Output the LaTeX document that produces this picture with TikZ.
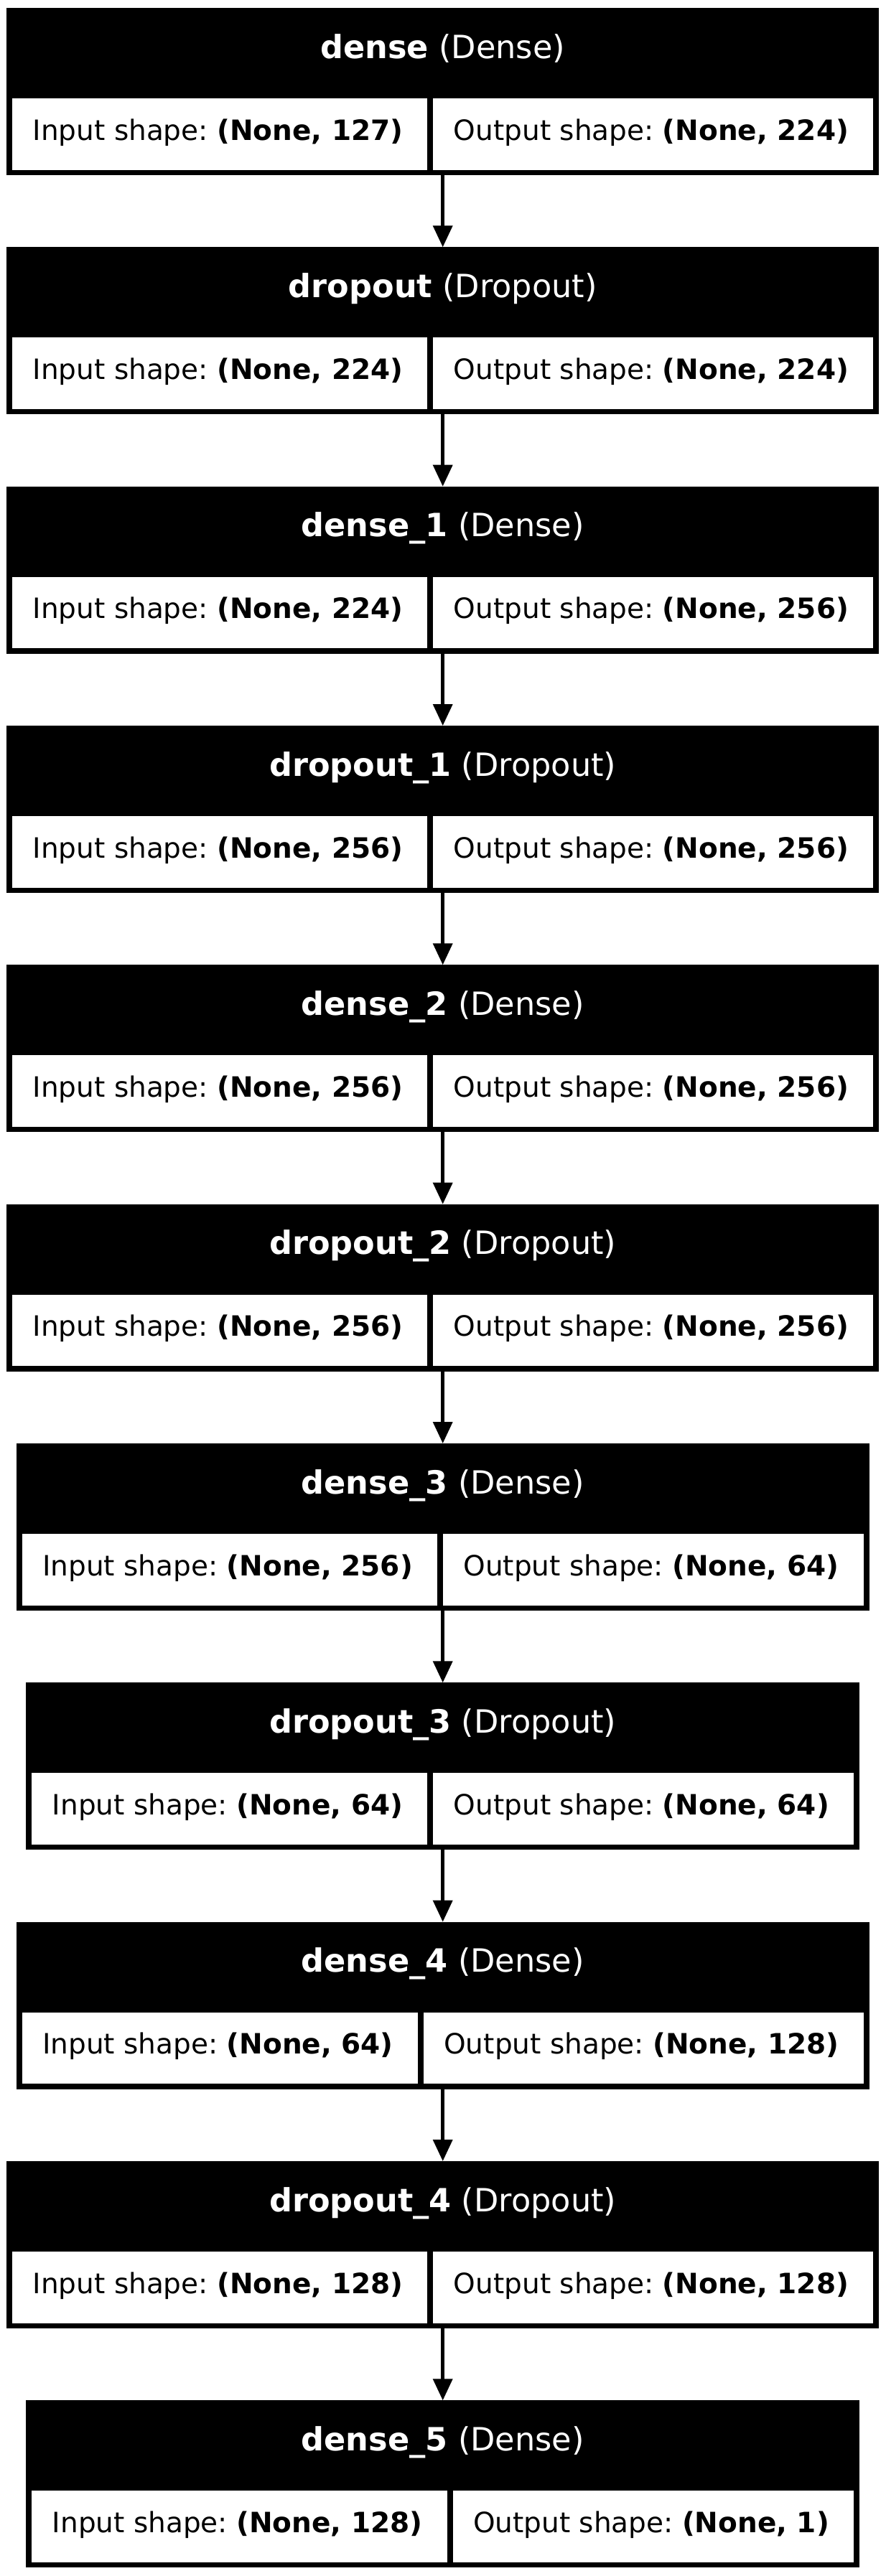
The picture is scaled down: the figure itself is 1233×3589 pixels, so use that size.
\documentclass[tikz,border=0pt]{standalone}
\usepackage{fontspec}
\setmainfont{DejaVu Sans}
\usetikzlibrary{arrows.meta}
\frenchspacing
\newlength\mylw
\newlength\myrw
\newcommand\cellfont{\fontsize{19.5pt}{23pt}\selectfont}
\newcommand\headfont{\fontsize{22.3pt}{26pt}\selectfont}
\tikzset{
  boxouter/.style={fill=black, draw=none, inner sep=0pt, outer sep=0pt, anchor=north west, minimum height=116.5pt},
  cellbox/.style={fill=white, draw=none, inner sep=0pt, outer sep=0pt, anchor=north west, minimum height=49.85pt},
  headtext/.style={text=white, font=\headfont, inner sep=0pt, anchor=base},
  celltext/.style={text=black, font=\cellfont, inner sep=0pt, anchor=base west},
  conn/.style={line width=2.35pt, draw=black, -{Triangle[width=13.35pt,length=15pt]}},
}
\makeatletter
\newcommand\mymeasure[3]{%
  \settowidth\mylw{\cellfont Input shape: \textbf{#2}}%
  \settowidth\myrw{\cellfont Output shape: \textbf{#3}}%
  \expandafter\xdef\csname mywl#1\endcsname{\strip@pt\mylw}%
  \expandafter\xdef\csname mywr#1\endcsname{\strip@pt\myrw}%
}
\makeatother
\newcommand\mylayer[6]{%
  \pgfmathsetmacro\mycL{2*\csname mywl#1\endcsname+62.5}%
  \pgfmathsetmacro\mycR{2*\csname mywr#1\endcsname+62.5}%
  \pgfmathsetmacro\myW{\mycL+\mycR+24}%
  \pgfmathsetmacro\myLx{616.7-\myW/2}%
  \pgfmathsetmacro\myTy{11+333.33*#2}%
  \node[boxouter, minimum width=\myW*0.5pt] (#1) at (\myLx,\myTy) {};
  \node[headtext] (#1h) at ({616.7},{\myTy+70}) {\textbf{#3} (#4)};
  \node[cellbox, minimum width=\mycL*0.5pt] (#1i) at ({\myLx+8},{\myTy+126}) {};
  \node[cellbox, minimum width=\mycR*0.5pt] (#1o) at ({\myLx+16+\mycL},{\myTy+126}) {};
  \node[celltext] (#1it) at ({\myLx+8+28},{\myTy+184}) {Input shape: \textbf{#5}};
  \node[celltext] (#1ot) at ({\myLx+16+\mycL+28},{\myTy+184}) {Output shape: \textbf{#6}};
}
\begin{document}%
\mymeasure{L1}{(None, 127)}{(None, 224)}%
\mymeasure{L2}{(None, 224)}{(None, 224)}%
\mymeasure{L3}{(None, 224)}{(None, 256)}%
\mymeasure{L4}{(None, 256)}{(None, 256)}%
\mymeasure{L5}{(None, 256)}{(None, 256)}%
\mymeasure{L6}{(None, 256)}{(None, 256)}%
\mymeasure{L7}{(None, 256)}{(None, 64)}%
\mymeasure{L8}{(None, 64)}{(None, 64)}%
\mymeasure{L9}{(None, 64)}{(None, 128)}%
\mymeasure{L10}{(None, 128)}{(None, 128)}%
\mymeasure{L11}{(None, 128)}{(None, 1)}%
\begin{tikzpicture}[x=0.5pt, y=-0.5pt]
  \useasboundingbox[fill=white] (0,0) rectangle (1233,3589);
  \mylayer{L1}{0}{dense}{Dense}{(None, 127)}{(None, 224)}
  \mylayer{L2}{1}{dropout}{Dropout}{(None, 224)}{(None, 224)}
  \mylayer{L3}{2}{dense\_1}{Dense}{(None, 224)}{(None, 256)}
  \mylayer{L4}{3}{dropout\_1}{Dropout}{(None, 256)}{(None, 256)}
  \mylayer{L5}{4}{dense\_2}{Dense}{(None, 256)}{(None, 256)}
  \mylayer{L6}{5}{dropout\_2}{Dropout}{(None, 256)}{(None, 256)}
  \mylayer{L7}{6}{dense\_3}{Dense}{(None, 256)}{(None, 64)}
  \mylayer{L8}{7}{dropout\_3}{Dropout}{(None, 64)}{(None, 64)}
  \mylayer{L9}{8}{dense\_4}{Dense}{(None, 64)}{(None, 128)}
  \mylayer{L10}{9}{dropout\_4}{Dropout}{(None, 128)}{(None, 128)}
  \mylayer{L11}{10}{dense\_5}{Dense}{(None, 128)}{(None, 1)}
  \foreach \a/\b in {L1/L2,L2/L3,L3/L4,L4/L5,L5/L6,L6/L7,L7/L8,L8/L9,L9/L10,L10/L11}
    \draw[conn] (\a.south) -- (\b.north);
\end{tikzpicture}%
\end{document}
